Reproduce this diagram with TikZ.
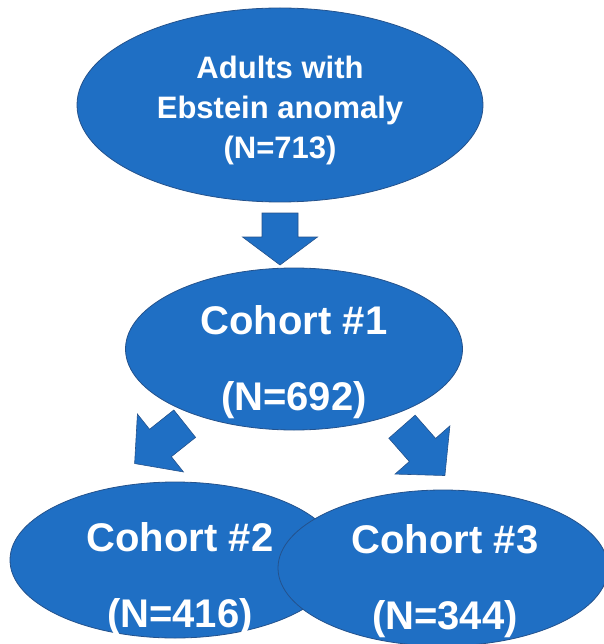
\documentclass[tikz,border=0pt]{standalone}
\usepackage{fontspec}
\setmainfont{Liberation Sans}
\usetikzlibrary{shapes.geometric}

\definecolor{cohortblue}{RGB}{31,111,196}
\definecolor{cohortline}{RGB}{36,82,140}

\tikzset{
  cohort/.style={ellipse, draw=cohortline, fill=cohortblue, line width=0.8pt, inner sep=0pt},
  toptext/.style={text=white, font=\bfseries\fontsize{31}{40}\selectfont, align=center, inner sep=0pt},
  cohorttext/.style={text=white, font=\bfseries\fontsize{40}{76}\selectfont, align=center, inner sep=0pt},
  blockarrow/.style={draw=cohortline, fill=cohortblue, line width=0.6pt}
}

\begin{document}
\begin{tikzpicture}[x=1pt, y=-1pt]
    \useasboundingbox (0,0) rectangle (603,644);

    \node[cohort, minimum width=406pt, minimum height=194pt] (adults) at (280,105) {};
    \node[toptext] (adultstext) at (280,110) {Adults with\\Ebstein anomaly\\(N=713)};

    \draw[blockarrow, shift={(280,213)}, rotate=-90]
      (0,-18) -- (24,-18) -- (24,-37.5) -- (52,0) -- (24,37.5) -- (24,18) -- (0,18) -- cycle;

    \node[cohort, minimum width=337pt, minimum height=162pt] (cohortone) at (294,349) {};
    \node[cohorttext] (cohortonetext) at (294,362) {Cohort \#1\\(N=692)};

    \draw[blockarrow, shift={(184.7,423.7)}, rotate=218.5]
      (0,-17.5) -- (31,-17.5) -- (31,-37) -- (64,0) -- (31,37) -- (31,17.5) -- (0,17.5) -- cycle;
    \draw[blockarrow, shift={(402,426.7)}, rotate=-48.7]
      (0,-17.5) -- (31,-17.5) -- (31,-36.5) -- (65,0) -- (31,36.5) -- (31,17.5) -- (0,17.5) -- cycle;

    \node[cohort, minimum width=330pt, minimum height=156pt] (cohorttwo) at (175,560) {};
    \node[cohorttext] (cohorttwotext) at (180,579) {Cohort \#2\\(N=416)};

    \node[cohort, minimum width=330pt, minimum height=156pt] (cohortthree) at (443,568) {};
    \node[cohorttext] (cohortthreetext) at (445,581) {Cohort \#3\\(N=344)};
\end{tikzpicture}
\end{document}
